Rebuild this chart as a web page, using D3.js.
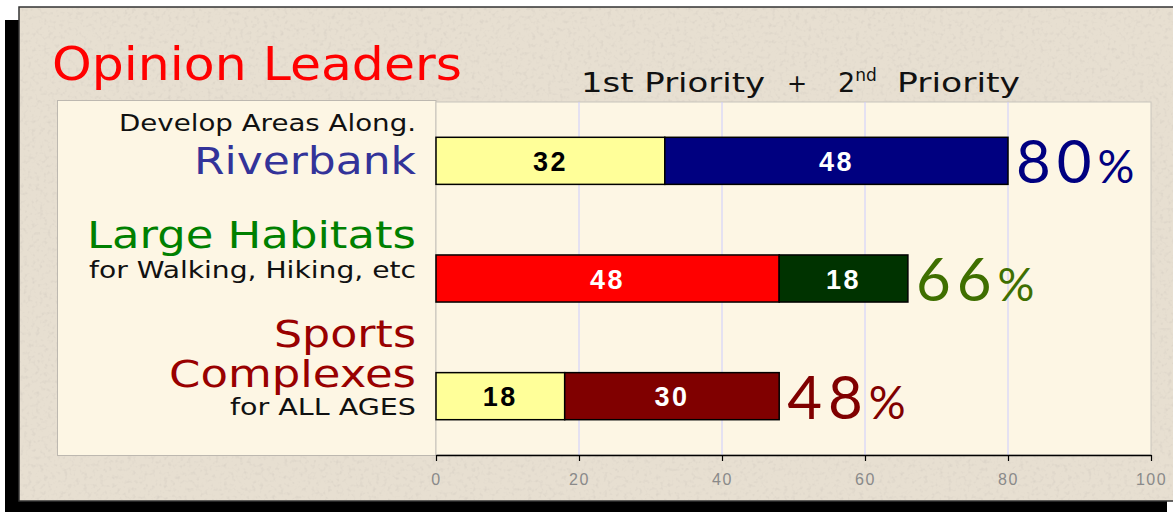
<!DOCTYPE html>
<html>
<head>
<meta charset="utf-8">
<script src="https://cdn.jsdelivr.net/npm/d3@7"></script>
<style>
  html, body { margin: 0; padding: 0; background: #ffffff; }
  svg { display: block; }
</style>
</head>
<body>
<svg id="chart" width="1173" height="512"></svg>
<script>
// ---------------- data ----------------
const categories = ["Riverbank", "Large Habitats", "Sports Complexes"];
const firstPriority = [32, 48, 18];
const secondPriority = [48, 18, 30];
const firstColors = ["#ffff99", "#ff0000", "#ffff99"];
const secondColors = ["#000080", "#003300", "#800000"];
const firstTextColors = ["#000000", "#ffffff", "#000000"];
const secondTextColors = ["#ffffff", "#ffffff", "#ffffff"];
const totalColors = ["#000080", "#3f6f00", "#800000"];
const xTicks = [0, 20, 40, 60, 80, 100];
const title = "Opinion Leaders";

// label lines per category: [text, size, color, width]
const labelLines = [
  [["Develop Areas Along.", 23, "#111111", 297], ["Riverbank", 37, "#333399", 222]],
  [["Large Habitats", 38, "#008000", 329], ["for Walking, Hiking, etc", 23, "#111111", 327]],
  [["Sports", 38, "#990000", 142], ["Complexes", 38, "#990000", 247], ["for ALL AGES", 23, "#111111", 186]]
];

// ---------------- layout ----------------
const svg = d3.select("#chart");
const W = 1173, H = 512;
const plot = { left: 436, right: 1151, top: 102, bottom: 455 };

const defs = svg.append("defs");
const f = defs.append("filter").attr("id", "grain").attr("x", 0).attr("y", 0).attr("width", "100%").attr("height", "100%");
f.append("feTurbulence").attr("type", "fractalNoise").attr("baseFrequency", 0.25).attr("numOctaves", 2).attr("seed", 7).attr("result", "n");
f.append("feColorMatrix").attr("in", "n").attr("type", "matrix")
  .attr("values", "0 0 0 0 0.6  0 0 0 0 0.56  0 0 0 0 0.5  0 0 0 -2.2 1.05");
f.append("feComposite").attr("in2", "SourceGraphic").attr("operator", "in");

// shadow
svg.append("rect").attr("x", 5).attr("y", 20).attr("width", 1162).attr("height", H - 20).attr("fill", "#000");
// panel
svg.append("rect").attr("x", 19).attr("y", 7).attr("width", W).attr("height", 494)
  .attr("fill", "#e7dfd1").attr("stroke", "#333").attr("stroke-width", 1.5);
svg.append("rect").attr("x", 20).attr("y", 8).attr("width", W).attr("height", 492)
  .attr("fill", "#e7dfd1").attr("filter", "url(#grain)").attr("opacity", 0.5);

// label box
svg.append("rect").attr("x", 57.5).attr("y", 100.5).attr("width", 378.5).attr("height", 355)
  .attr("fill", "#fdf6e4").attr("stroke", "#bdb8b0").attr("stroke-width", 1);
// plot area
svg.append("rect").attr("x", plot.left).attr("y", plot.top).attr("width", plot.right - plot.left).attr("height", plot.bottom - plot.top)
  .attr("fill", "#fdf6e4").attr("stroke", "#c8c4bc").attr("stroke-width", 1);

// scales
const x = d3.scaleLinear().domain([0, 100]).range([plot.left, plot.right]);
const y = d3.scaleBand().domain(categories).range([plot.top, plot.bottom]).paddingInner(0.6).paddingOuter(0.3);

// gridlines
svg.append("g").selectAll("line").data(xTicks.filter(t => t > 0 && t < 100)).join("line")
  .attr("x1", d => x(d)).attr("x2", d => x(d))
  .attr("y1", plot.top).attr("y2", plot.bottom)
  .attr("stroke", "#ccccff").attr("stroke-width", 1);

// axis
const axis = d3.axisBottom(x).tickValues(xTicks).tickSize(6).tickSizeOuter(0).tickPadding(13);
const ag = svg.append("g").attr("transform", `translate(0,${plot.bottom})`).call(axis);
ag.select(".domain").attr("stroke", "#000").attr("stroke-width", 1.5);
ag.selectAll(".tick line").attr("stroke", "#000").attr("stroke-width", 1.2);
ag.selectAll(".tick text").attr("fill", "#8a8a8a").attr("font-family", "Liberation Sans, Arial, sans-serif")
  .attr("font-size", 16).attr("letter-spacing", 1.5);

// bars
const rows = categories.map((c, i) => ({ c, i, a: firstPriority[i], b: secondPriority[i] }));
const g = svg.append("g");
g.selectAll("rect.first").data(rows).join("rect").attr("class", "first")
  .attr("x", d => x(0)).attr("y", d => y(d.c)).attr("width", d => x(d.a) - x(0)).attr("height", y.bandwidth())
  .attr("fill", d => firstColors[d.i]).attr("stroke", "#000").attr("stroke-width", 1.5);
g.selectAll("rect.second").data(rows).join("rect").attr("class", "second")
  .attr("x", d => x(d.a)).attr("y", d => y(d.c)).attr("width", d => x(d.a + d.b) - x(d.a)).attr("height", y.bandwidth())
  .attr("fill", d => secondColors[d.i]).attr("stroke", "#000").attr("stroke-width", 1.5);

const valFont = "Liberation Sans, Arial, sans-serif";
g.selectAll("text.fv").data(rows).join("text").attr("class", "fv")
  .attr("x", d => (x(0) + x(d.a)) / 2).attr("y", d => y(d.c) + y.bandwidth() / 2 + 10)
  .attr("text-anchor", "middle").attr("font-family", valFont).attr("font-weight", "bold").attr("font-size", 27)
  .attr("letter-spacing", 2.5).attr("fill", d => firstTextColors[d.i]).text(d => d.a);
g.selectAll("text.sv").data(rows).join("text").attr("class", "sv")
  .attr("x", d => (x(d.a) + x(d.a + d.b)) / 2).attr("y", d => y(d.c) + y.bandwidth() / 2 + 10)
  .attr("text-anchor", "middle").attr("font-family", valFont).attr("font-weight", "bold").attr("font-size", 27)
  .attr("letter-spacing", 2.5).attr("fill", d => secondTextColors[d.i]).text(d => d.b);

// totals
const tot = g.selectAll("text.tot").data(rows).join("text").attr("class", "tot")
  .attr("x", d => x(d.a + d.b) + 8).attr("y", d => y(d.c) + y.bandwidth() - 1)
  .attr("font-family", "Lato, 'Open Sans', sans-serif").attr("fill", d => totalColors[d.i]);
tot.append("tspan").attr("font-size", 60).attr("letter-spacing", 6).text(d => d.a + d.b);
tot.append("tspan").attr("font-size", 46).text("%");

// title
svg.append("text").attr("x", 52).attr("y", 80).attr("font-family", "DejaVu Sans, Verdana, sans-serif")
  .attr("font-size", 47).attr("fill", "#ff0000")
  .attr("textLength", 410).attr("lengthAdjust", "spacingAndGlyphs").text(title);

// header
const hg = svg.append("g").attr("font-family", "DejaVu Sans, Verdana, sans-serif").attr("fill", "#111");
hg.append("text").attr("x", 581).attr("y", 92).attr("font-size", 27)
  .attr("textLength", 184).attr("lengthAdjust", "spacingAndGlyphs").text("1st Priority");
hg.append("text").attr("x", 797).attr("y", 92).attr("font-size", 24).attr("text-anchor", "middle").text("+");
const h2 = hg.append("text").attr("x", 838).attr("y", 92).attr("font-size", 27);
h2.append("tspan").text("2");
h2.append("tspan").attr("font-size", 17).attr("dy", -11).text("nd");
hg.append("text").attr("x", 897).attr("y", 92).attr("font-size", 27)
  .attr("textLength", 123).attr("lengthAdjust", "spacingAndGlyphs").text("Priority");

// left labels
const baselines = [[131, 174], [248, 278], [347, 387, 415]];
const lg = svg.append("g").attr("font-family", "DejaVu Sans, Verdana, sans-serif").attr("text-anchor", "end");
labelLines.forEach((lines, i) => {
  lines.forEach((ln, j) => {
    lg.append("text").attr("x", 416).attr("y", baselines[i][j])
      .attr("font-size", ln[1]).attr("fill", ln[2])
      .attr("textLength", ln[3]).attr("lengthAdjust", "spacingAndGlyphs").text(ln[0]);
  });
});
</script>
</body>
</html>
